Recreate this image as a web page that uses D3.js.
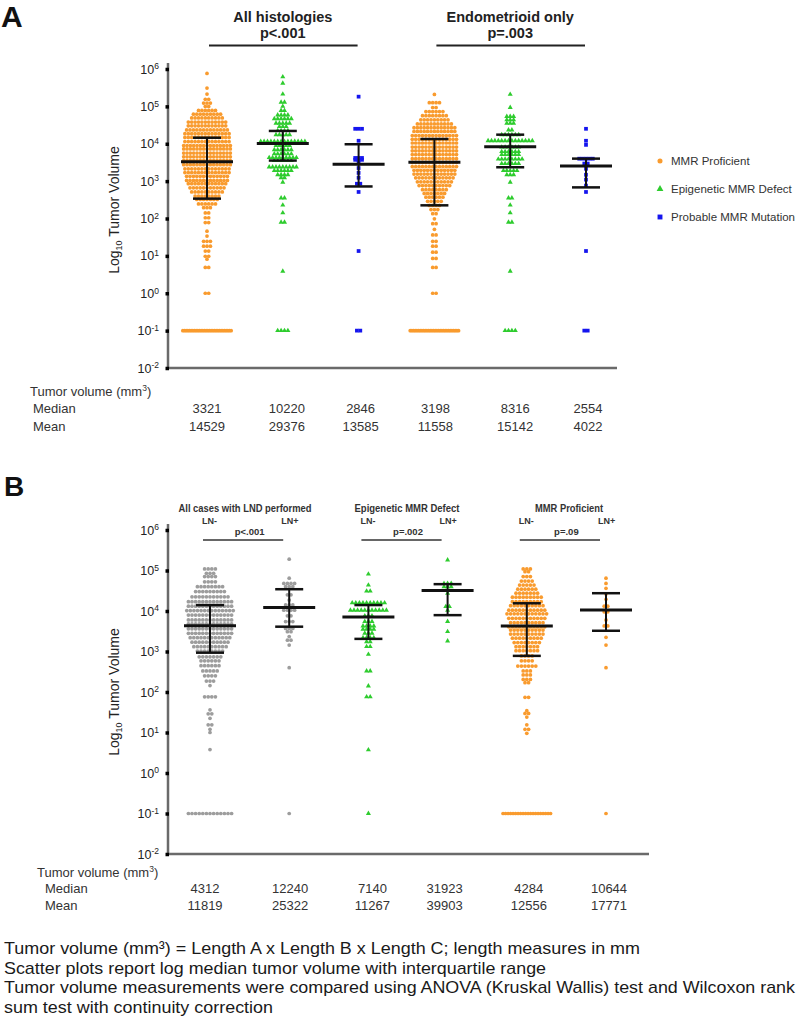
<!DOCTYPE html>
<html><head><meta charset="utf-8">
<script src="https://cdn.jsdelivr.net/npm/d3@7"></script>
<style>body{margin:0;background:#fff}svg{display:block;font-family:Arial,"Liberation Sans",sans-serif}</style>
</head><body><svg id="c" width="800" height="1016"></svg>
<script>
// ---------- DATA ----------
const tickExponents = [-2,-1,0,1,2,3,4,5,6];
// Panel A
const groupsA = ["MMR Proficient (all)","Epigenetic MMR Defect (all)","Probable MMR Mutation (all)",
                 "MMR Proficient (endometrioid)","Epigenetic MMR Defect (endometrioid)","Probable MMR Mutation (endometrioid)"];
const typesA = ["prof","epi","prob","prof","epi","prob"];
// rows of the beeswarm: [log10 tumor volume, number of cases in that row]
const a1Rows = [[5.88,1],[5.49,1],[5.33,1],[5.19,2],[5.09,3],[5.0,2],[4.89,6],[4.79,9],[4.69,10],[4.58,12],[4.48,12],[4.37,13],[4.27,14],[4.17,14],[4.06,14],[3.95,15],[3.86,15],[3.75,15],[3.65,15],[3.55,15],[3.44,15],[3.33,14],[3.23,14],[3.13,13],[3.02,13],[2.93,12],[2.82,11],[2.71,10],[2.6,8],[2.51,7],[2.39,6],[2.29,3],[2.15,2],[2.02,2],[1.89,2],[1.66,1],[1.53,1],[1.39,3],[1.26,3],[1.13,2],[0.99,2],[0.91,1],[0.69,2],[0,2],[-1,30]];
const a2Rows = [[5.79,1],[5.62,1],[5.33,1],[5.11,2],[5.0,1],[4.89,2],[4.77,4],[4.67,6],[4.55,5],[4.46,3],[4.35,4],[4.24,5],[4.06,14],[3.95,5],[3.84,6],[3.73,6],[3.63,9],[3.55,6],[3.38,9],[3.28,6],[3.17,4],[3.09,2],[2.97,1],[2.55,2],[2.36,1],[2.15,1],[1.90,2],[0.59,1],[-1,4]];
const a3Rows = [[5.26,1],[4.40,3],[4.08,1],[3.62,3],[3.57,3],[3.49,1],[3.35,1],[3.22,1],[3.09,1],[2.93,2],[2.71,1],[1.13,1],[-1,2]];
const a4Rows = [[5.32,1],[5.10,4],[4.97,2],[4.86,6],[4.75,8],[4.64,9],[4.53,11],[4.43,13],[4.33,13],[4.22,14],[4.12,14],[4.02,14],[3.91,14],[3.81,14],[3.71,14],[3.60,14],[3.50,14],[3.39,14],[3.29,13],[3.19,13],[3.09,12],[2.98,11],[2.88,10],[2.77,8],[2.67,7],[2.57,6],[2.46,5],[2.35,4],[2.24,3],[2.13,2],[1.99,1],[1.86,2],[1.71,1],[1.56,2],[1.39,2],[1.26,2],[1.10,2],[0.93,2],[0.69,2],[0,2],[-1,30]];
const a5Rows = [[5.32,1],[4.97,1],[4.73,3],[4.64,3],[4.55,3],[4.37,2],[4.24,6],[4.08,14],[3.91,6],[3.79,6],[3.71,6],[3.59,8],[3.47,6],[3.28,5],[3.17,3],[2.97,1],[2.55,2],[2.36,1],[2.15,1],[1.90,2],[0.59,1],[-1,4]];
const a6Rows = [[4.40,1],[4.08,1],[3.97,1],[3.60,5],[3.47,2],[3.33,1],[3.17,1],[3.04,1],[2.88,1],[2.71,1],[1.13,1],[-1,2]];
const medianA = [3321,10220,2846,3198,8316,2554];
const meanA   = [14529,29376,13585,11558,15142,4022];
const q1A = [340,3550,720,225,2350,680];
const q3A = [14500,22000,9700,13400,17500,4000];
const titlesA = [["All histologies","p<.001"],["Endometrioid only","p=.003"]];
const legendLabels = ["MMR Proficient","Epigenetic MMR Defect","Probable MMR Mutation"];
const legendTypes = ["prof","epi","prob"];

// Panel B
const groupsB = ["All LN-","All LN+","Epigenetic LN-","Epigenetic LN+","Proficient LN-","Proficient LN+"];
const typesB = ["all","all","epi","epi","prof","prof"];
const b1Rows = [[5.04,4],[4.93,3],[4.85,4],[4.72,4],[4.60,8],[4.48,9],[4.35,11],[4.23,13],[4.12,13],[4.01,14],[3.90,13],[3.78,13],[3.68,13],[3.56,13],[3.45,13],[3.34,12],[3.23,11],[3.12,10],[3.01,8],[2.87,7],[2.77,6],[2.65,6],[2.52,5],[2.40,4],[2.27,3],[2.16,1],[1.88,4],[1.56,1],[1.46,2],[1.35,1],[1.19,2],[1.08,1],[1.0,1],[0.58,1],[-1,13]];
const b2Rows = [[5.28,1],[4.81,1],[4.68,4],[4.60,3],[4.40,2],[4.27,1],[4.15,3],[4.02,4],[3.88,2],[3.74,3],[3.57,3],[3.49,2],[3.37,1],[3.28,2],[3.16,1],[2.60,1],[-1,1]];
const b3Rows = [[4.91,1],[4.64,1],[4.49,2],[4.20,10],[4.02,11],[3.88,3],[3.74,3],[3.63,4],[3.55,4],[3.45,3],[3.34,4],[3.24,2],[3.12,2],[2.93,1],[2.52,2],[2.15,1],[1.88,2],[0.57,1],[-1,1]];
const b4Rows = [[5.26,1],[4.68,3],[4.60,3],[4.44,1],[4.11,2],[4.02,1],[3.74,1],[3.49,1],[3.26,1]];
const b5Rows = [[5.04,3],[4.97,2],[4.85,3],[4.74,4],[4.64,5],[4.54,6],[4.44,7],[4.34,9],[4.23,9],[4.13,10],[4.02,11],[3.93,12],[3.82,11],[3.71,10],[3.61,11],[3.53,10],[3.43,10],[3.33,9],[3.22,8],[3.12,7],[3.02,7],[2.89,4],[2.77,4],[2.64,6],[2.52,3],[2.42,3],[2.31,3],[2.23,2],[1.87,2],[1.54,1],[1.47,2],[1.38,1],[1.19,1],[1.08,2],[0.98,1],[-1,20]];
const b6Rows = [[4.81,1],[4.68,1],[4.56,1],[4.42,1],[4.29,1],[4.12,2],[3.98,2],[3.78,1],[3.63,2],[3.35,1],[3.16,1],[2.60,1],[-1,1]];
const medianB = [4312,12240,7140,31923,4284,10644];
const meanB   = [11819,25322,11267,39903,12556,17771];
const q1B = [935,4100,2050,7900,780,3250];
const q3B = [14000,34500,14000,46000,15500,27500];
const titlesB = [["All cases with LND performed","p<.001"],["Epigenetic MMR Defect","p=.002"],["MMR Proficient","p=.09"]];

const footnotes = ["Tumor volume (mm\u00B3) = Length A x Length B x Length C; length measures in mm",
  "Scatter plots report log median tumor volume with interquartile range",
  "Tumor volume measurements were compared using ANOVA (Kruskal Wallis) test and Wilcoxon rank",
  "sum test with continuity correction"];

// ---------- DRAWING ----------
const svg = d3.select("#c");
const colors = {prof:"#f99b2e", epi:"#2ecc2e", prob:"#1515ee", all:"#9d9d9d"};
const symTypes = {prof:d3.symbolCircle, epi:d3.symbolTriangle, prob:d3.symbolSquare, all:d3.symbolCircle};
const symSize = {prof:11, epi:11, prob:14, all:11};
const tickVals = tickExponents.map(e => Math.pow(10,e));
const FONT = 'Arial,"Liberation Sans",sans-serif';
const NARROW = '"Liberation Sans Narrow","Arial Narrow",Arial,sans-serif';

function panel(o){
  const y = d3.scaleLog().domain([1e-2,1e6]).range([o.yBottom,o.yTop]);
  const x = d3.scalePoint().domain(o.groups).range(o.xRange);
  const g = svg.append("g");
  g.append("line").attr("x1",o.axisX).attr("x2",o.axisX).attr("y1",o.axisTop).attr("y2",y(1e-2))
    .attr("stroke","#6a6a6a").attr("stroke-width",2.5);
  g.append("line").attr("x1",o.axisX-1).attr("x2",o.axisRight).attr("y1",y(1e-2)).attr("y2",y(1e-2))
    .attr("stroke","#6a6a6a").attr("stroke-width",2.5);
  const ax = g.append("g").attr("transform",`translate(${o.axisX+1},0)`)
    .call(d3.axisLeft(y).tickValues(tickVals).tickSize(3.5).tickPadding(6.5).tickSizeOuter(0));
  ax.select(".domain").remove();
  ax.attr("font-family",FONT);
  ax.selectAll(".tick line").attr("stroke","#000").attr("stroke-width",3.5);
  ax.selectAll(".tick text").attr("fill","#222").attr("font-size",12.5).each(function(d){
    const t = d3.select(this); const e = Math.round(Math.log10(d));
    t.text(null);
    t.append("tspan").text("10");
    t.append("tspan").attr("dy","-0.5em").attr("font-size",8.5).text(e);
  });
  const yl = g.append("text").attr("transform",`translate(${o.labelX},${o.labelY}) rotate(-90)`)
    .attr("text-anchor","middle").attr("font-family",FONT).attr("font-size",14).attr("fill","#222");
  yl.append("tspan").text("Log");
  yl.append("tspan").attr("font-size",9).attr("dy",3).text("10");
  yl.append("tspan").attr("dy",-3).text(" Tumor Volume");
  const maxW = 50;
  o.groups.forEach((grp,i)=>{
    const cx = x(grp), type = o.types[i];
    const sym = d3.symbol().type(symTypes[type]).size(symSize[type]);
    const pts = [];
    o.rows[i].forEach(([e,n])=>{
      const sp = Math.min(o.spacing, maxW/n);
      for(let k=0;k<n;k++) pts.push([cx+(k-(n-1)/2)*sp, y(Math.pow(10,e))]);
    });
    g.append("g").selectAll("path").data(pts).join("path")
      .attr("d",sym).attr("transform",d=>`translate(${d[0]},${d[1]})`).attr("fill",colors[type]);
  });
  o.groups.forEach((grp,i)=>{
    const cx = x(grp);
    const bars = g.append("g").attr("stroke","#111");
    bars.append("line").attr("x1",cx).attr("x2",cx).attr("y1",y(o.q1[i])).attr("y2",y(o.q3[i])).attr("stroke-width",2);
    [o.q1[i],o.q3[i]].forEach(v=>bars.append("line").attr("x1",cx-14).attr("x2",cx+14).attr("y1",y(v)).attr("y2",y(v)).attr("stroke-width",2.5));
    bars.append("line").attr("x1",cx-26).attr("x2",cx+26).attr("y1",y(o.median[i])).attr("y2",y(o.median[i])).attr("stroke-width",3);
  });
  const tb = g.append("g").attr("font-family",o.tableFont).attr("font-size",13).attr("fill","#333");
  const h = tb.append("text").attr("x",o.tableX).attr("y",o.tableY[0]);
  h.append("tspan").text("Tumor volume  (mm");
  h.append("tspan").attr("dy",-5).attr("font-size",8.5).text("3");
  h.append("tspan").attr("dy",5).text(")");
  tb.append("text").attr("x",o.tableX+o.rowIndent).attr("y",o.tableY[1]).text("Median");
  tb.append("text").attr("x",o.tableX+o.rowIndent).attr("y",o.tableY[2]).text("Mean");
  tb.selectAll("text.med").data(o.median).join("text").attr("class","med")
    .attr("x",(d,i)=>x(o.groups[i])+o.tableShift[i]).attr("y",o.tableY[1]).attr("text-anchor","middle").text(d=>d);
  tb.selectAll("text.mean").data(o.mean).join("text").attr("class","mean")
    .attr("x",(d,i)=>x(o.groups[i])+o.tableShift[i]).attr("y",o.tableY[2]).attr("text-anchor","middle").text(d=>d);
  return {x,y,g};
}

// Panel A
const A = panel({groups:groupsA,types:typesA,rows:[a1Rows,a2Rows,a3Rows,a4Rows,a5Rows,a6Rows],
  median:medianA,mean:meanA,q1:q1A,q3:q3A,yTop:69,yBottom:368,xRange:[207,586],
  axisX:168,axisTop:63,axisRight:617,labelX:119,labelY:210,spacing:3.4,
  tableFont:FONT,tableX:30,rowIndent:3,tableY:[396,413,431],tableShift:[0,4,2,1,5,2]});
svg.append("text").attr("x",1).attr("y",27).attr("font-family",FONT).attr("font-weight","bold").attr("font-size",30).attr("fill","#111").text("A");
const pairsA = [[0,2],[3,5]];
titlesA.forEach((t,j)=>{
  const x0 = A.x(groupsA[pairsA[j][0]]), x1 = A.x(groupsA[pairsA[j][1]]);
  const cx = (x0+x1)/2;
  const tg = svg.append("g").attr("font-family",FONT).attr("font-weight","bold").attr("font-size",14.5).attr("fill","#222").attr("text-anchor","middle");
  tg.append("text").attr("x",cx).attr("y",22).text(t[0]);
  tg.append("text").attr("x",cx).attr("y",38).text(t[1]);
  svg.append("line").attr("x1",x0+2).attr("x2",x1-1).attr("y1",45.5).attr("y2",45.5).attr("stroke","#222").attr("stroke-width",2);
});
legendLabels.forEach((l,i)=>{
  const ly = 161 + i*28;
  const t = legendTypes[i];
  svg.append("path").attr("d",d3.symbol().type(symTypes[t]).size(t==="prob"?24:20)()).attr("transform",`translate(660,${ly})`).attr("fill",colors[t]);
  svg.append("text").attr("x",671).attr("y",ly+4).attr("font-family",FONT).attr("font-size",11.5).attr("fill","#333").text(l);
});

// Panel B
const B = panel({groups:groupsB,types:typesB,rows:[b1Rows,b2Rows,b3Rows,b4Rows,b5Rows,b6Rows],
  median:medianB,mean:meanB,q1:q1B,q3:q3B,yTop:530,yBottom:854,xRange:[210,606],
  axisX:168,axisTop:524,axisRight:649,labelX:119,labelY:692,spacing:3.6,
  tableFont:FONT,tableX:37,rowIndent:8,tableY:[877,893,910],tableShift:[-5,1,4,-3,2,3]});
svg.append("text").attr("x",4).attr("y",496).attr("font-family",FONT).attr("font-weight","bold").attr("font-size",28).attr("fill","#111").text("B");
const titleWB = [133,105,68];
const titleCX = [245,407,569];
titlesB.forEach((t,j)=>{
  const x0 = B.x(groupsB[2*j]), x1 = B.x(groupsB[2*j+1]);
  const tg = svg.append("g").attr("font-family",NARROW).attr("font-weight","bold").attr("fill","#333");
  tg.append("text").attr("x",titleCX[j]).attr("y",511.5).attr("text-anchor","middle").attr("font-size",10)
    .attr("textLength",titleWB[j]).attr("lengthAdjust","spacingAndGlyphs").text(t[0]);
  tg.append("text").attr("x",x0-8).attr("y",523.5).attr("font-size",9).text("LN-");
  tg.append("text").attr("x",x1-8).attr("y",523.5).attr("font-size",9).text("LN+");
  tg.append("text").attr("x",(x0+x1)/2).attr("y",534.5).attr("text-anchor","middle").attr("font-size",9.5).text(t[1]);
  svg.append("line").attr("x1",x0-7).attr("x2",x1-6).attr("y1",540).attr("y2",540).attr("stroke","#333").attr("stroke-width",1.6);
});

const footW = [636,542,791,269];
footnotes.forEach((f,i)=>{
  svg.append("text").attr("x",4).attr("y",954+i*19.5).attr("font-family",FONT).attr("font-size",17)
    .attr("fill","#1a1a1a").attr("textLength",footW[i]).attr("lengthAdjust","spacingAndGlyphs").text(f);
});
</script></body></html>
